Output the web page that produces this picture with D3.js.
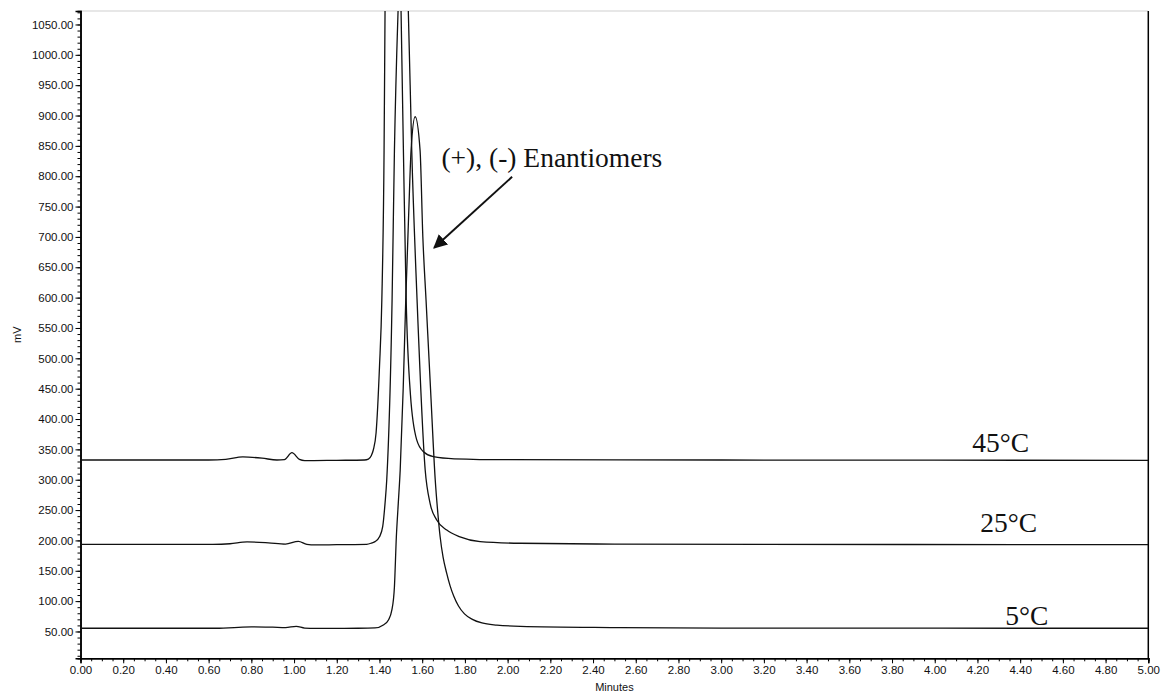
<!DOCTYPE html>
<html>
<head>
<meta charset="utf-8">
<script src="https://cdn.jsdelivr.net/npm/d3@7"></script>
<style>
  html, body { margin: 0; padding: 0; background: #fff; }
  svg { display: block; }
</style>
</head>
<body>
<svg id="chart" width="1163" height="695"></svg>
<script>
// ---- data (time in minutes, signal in mV) ----
const trace45 = [
  [0, 332.5], [0.60, 332.5], [0.68, 333.5], [0.76, 337.5], [0.85, 335.5], [0.92, 332.5],
  [0.955, 333], [0.99, 344.5], [1.025, 333.5], [1.05, 331.5], [1.20, 332], [1.33, 332.5],
  [1.348, 334], [1.362, 340], [1.371, 349], [1.384, 377], [1.400, 486], [1.411, 596],
  [1.4215, 843], [1.426, 1072], [1.464, 2150], [1.501, 1072], [1.512, 843], [1.525, 596],
  [1.545, 440], [1.574, 366], [1.606, 346], [1.652, 338], [1.75, 334.5], [2.0, 333],
  [3.0, 332.5], [5.0, 332]
];
const trace25 = [
  [0, 193.5], [0.62, 193.5], [0.70, 194.5], [0.78, 197.5], [0.88, 196], [0.96, 194],
  [1.02, 198.5], [1.06, 193.5], [1.10, 192.5], [1.20, 193], [1.34, 193.5], [1.365, 196],
  [1.379, 198], [1.400, 206], [1.415, 222.6], [1.426, 261], [1.434, 300], [1.459, 596],
  [1.470, 843], [1.487, 1072], [1.511, 1250], [1.535, 1072], [1.551, 843], [1.576, 596],
  [1.614, 316], [1.637, 261], [1.668, 233.7], [1.715, 217], [1.777, 206], [1.871, 198],
  [2.058, 195.3], [2.5, 194], [5.0, 193]
];
const trace5 = [
  [0, 55.3], [0.65, 55.3], [0.72, 56.5], [0.80, 57.5], [0.90, 57], [0.96, 56.5],
  [1.01, 58.5], [1.05, 55.5], [1.10, 55], [1.30, 55.3], [1.379, 55.8], [1.418, 60.7],
  [1.442, 69], [1.458, 85.4], [1.470, 123.8], [1.479, 206], [1.488, 261], [1.497, 316],
  [1.511, 450], [1.523, 596], [1.536, 730], [1.548, 843], [1.567, 898], [1.590, 843],
  [1.603, 700], [1.618, 596], [1.639, 450], [1.661, 300], [1.672, 250], [1.684, 206],
  [1.698, 172], [1.714, 147], [1.730, 126], [1.748, 108], [1.770, 92], [1.798, 79],
  [1.835, 70], [1.880, 64], [1.950, 60.5], [2.060, 58.5], [2.5, 56.5], [3.0, 55.5], [5.0, 55.3]
];
const traceNames = ["45°C", "25°C", "5°C"];
const labelAnchors = [[4.176, 345], [4.213, 213.5], [4.330, 60.5]]; // (minutes, mV) at label's left/baseline
const annotationText = "(+), (-) Enantiomers";
const annotationAnchor = [1.69, 815];
const arrowFrom = [2.021, 799], arrowTo = [1.656, 682];
const xMajorTicks = d3.range(0, 5.0001, 0.2);
const xMinorTicks = d3.range(0, 5.0001, 0.05);
const yMajorTicks = d3.range(50, 1050.1, 50);
const yMinorTicks = d3.range(10, 1070.1, 10);
const xDomain = [0, 5];
const yDomain = [5.8, 1072.2];

(function draw() {
  const svg = d3.select("#chart");
  const pLeft = 80.5, pRight = 1148.3, pTop = 11, pBottom = 658.3;
  const x = d3.scaleLinear().domain(xDomain).range([pLeft, pRight]);
  const y = d3.scaleLinear().domain(yDomain).range([pBottom, pTop]);

  const defs = svg.append("defs");
  defs.append("clipPath").attr("id", "plotclip")
    .append("rect").attr("x", pLeft).attr("y", pTop).attr("width", pRight - pLeft).attr("height", pBottom - pTop);

  // frame: top grey, right black
  svg.append("line").attr("x1", pLeft).attr("x2", pRight).attr("y1", pTop).attr("y2", pTop)
    .attr("stroke", "#cfcfcf").attr("stroke-width", 1);
  svg.append("line").attr("x1", pRight).attr("x2", pRight).attr("y1", pTop).attr("y2", pBottom)
    .attr("stroke", "#000").attr("stroke-width", 1.5);

  const fmt = d3.format(".2f");
  const xMinorAxis = d3.axisBottom(x).tickValues(xMinorTicks).tickSize(3).tickFormat("");
  const xAxis = d3.axisBottom(x).tickValues(xMajorTicks).tickSize(5).tickPadding(3).tickFormat(fmt);
  const yMinorAxis = d3.axisLeft(y).tickValues(yMinorTicks).tickSize(3).tickFormat("");
  const yAxis = d3.axisLeft(y).tickValues(yMajorTicks).tickSize(5).tickPadding(2).tickFormat(fmt);

  function styleAxis(g) {
    g.selectAll(".domain").attr("stroke", "#000").attr("stroke-width", 1.5);
    g.selectAll(".tick line").attr("stroke", "#000").attr("stroke-width", 1);
    g.selectAll("text").attr("font-family", "'Liberation Sans', Arial, sans-serif")
      .attr("font-size", 11.5).attr("fill", "#111");
  }
  svg.append("g").attr("transform", `translate(0,${pBottom})`).call(xMinorAxis).call(styleAxis);
  svg.append("g").attr("transform", `translate(0,${pBottom})`).call(xAxis).call(styleAxis);
  svg.append("g").attr("transform", `translate(${pLeft},0)`).call(yMinorAxis).call(styleAxis);
  svg.append("g").attr("transform", `translate(${pLeft},0)`).call(yAxis).call(styleAxis);

  svg.append("text").attr("x", (pLeft + pRight) / 2).attr("y", 691).attr("text-anchor", "middle")
    .attr("font-family", "'Liberation Sans', Arial, sans-serif").attr("font-size", 11).attr("fill", "#111")
    .text("Minutes");
  svg.append("text").attr("transform", `translate(21,${(pTop + pBottom) / 2}) rotate(-90)`)
    .attr("text-anchor", "middle")
    .attr("font-family", "'Liberation Sans', Arial, sans-serif").attr("font-size", 11).attr("fill", "#111")
    .text("mV");

  const line = d3.line().x(d => x(d[0])).y(d => y(d[1])).curve(d3.curveMonotoneX);
  const plot = svg.append("g").attr("clip-path", "url(#plotclip)");
  [trace45, trace25, trace5].forEach(tr => {
    plot.append("path").datum(tr).attr("d", line)
      .attr("fill", "none").attr("stroke", "#111").attr("stroke-width", 1.3);
  });

  const serif = "'Liberation Serif', 'Times New Roman', serif";
  traceNames.forEach((name, i) => {
    svg.append("text").attr("x", x(labelAnchors[i][0])).attr("y", y(labelAnchors[i][1]))
      .attr("font-family", serif).attr("font-size", 27.5).attr("fill", "#111").text(name);
  });

  svg.append("text").attr("x", x(annotationAnchor[0])).attr("y", y(annotationAnchor[1]))
    .attr("font-family", serif).attr("font-size", 27.5).attr("fill", "#111").text(annotationText);
  defs.append("marker").attr("id", "arrowhead")
    .attr("viewBox", "0 0 10 10").attr("refX", 9).attr("refY", 5)
    .attr("markerWidth", 7).attr("markerHeight", 7).attr("orient", "auto")
    .append("path").attr("d", "M0,0 L10,5 L0,10 z").attr("fill", "#111");
  svg.append("line")
    .attr("x1", x(arrowFrom[0])).attr("y1", y(arrowFrom[1]))
    .attr("x2", x(arrowTo[0])).attr("y2", y(arrowTo[1]))
    .attr("stroke", "#111").attr("stroke-width", 2).attr("marker-end", "url(#arrowhead)");
})();
</script>
</body>
</html>
